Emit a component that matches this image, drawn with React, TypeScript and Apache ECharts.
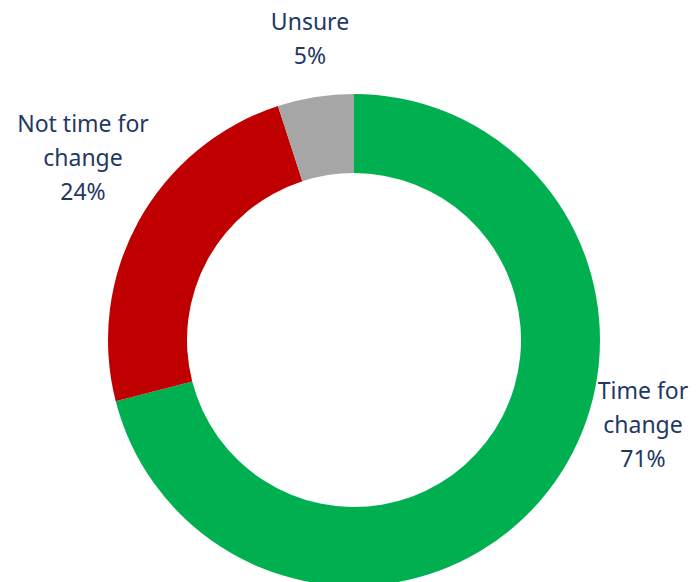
import React, { useEffect, useRef } from "react";
import * as echarts from "echarts";

const categories = ["Time for change", "Not time for change", "Unsure"];
const labelTexts = ["Time for\nchange", "Not time for\nchange", "Unsure"];
const values = [71, 24, 5];
const colors = ["#00B050", "#C00000", "#A6A6A6"];
const labelCenters: [number, number][] = [
  [643, 424],
  [83, 157],
  [310, 38],
];

export default function App() {
  const ref = useRef<HTMLDivElement>(null);
  useEffect(() => {
    document.body.style.margin = "0";
    const chart = echarts.init(ref.current!, undefined, { renderer: "svg" });
    chart.setOption({
      animation: false,
      backgroundColor: "#ffffff",
      series: [
        {
          type: "pie",
          center: [354, 340],
          radius: [167, 246],
          startAngle: 90,
          clockwise: true,
          avoidLabelOverlap: false,
          itemStyle: { borderWidth: 0 },
          labelLine: { show: false },
          label: {
            show: true,
            position: "outside",
            color: "#1F3864",
            fontFamily: "Noto Sans",
            fontSize: 23,
            lineHeight: 34,
            align: "center",
            verticalAlign: "middle",
            formatter: (p: any) => `${labelTexts[p.dataIndex]}\n${p.value}%`,
          },
          labelLayout: (p: any) => ({
            x: labelCenters[p.dataIndex][0],
            y: labelCenters[p.dataIndex][1],
            align: "center",
            verticalAlign: "middle",
          }),
          data: categories.map((name, i) => ({
            name,
            value: values[i],
            itemStyle: { color: colors[i] },
          })),
        },
      ],
    });
    return () => chart.dispose();
  }, []);
  return (
    <div
      ref={ref}
      style={{ position: "absolute", left: 0, top: 0, width: 698, height: 582 }}
    />
  );
}
